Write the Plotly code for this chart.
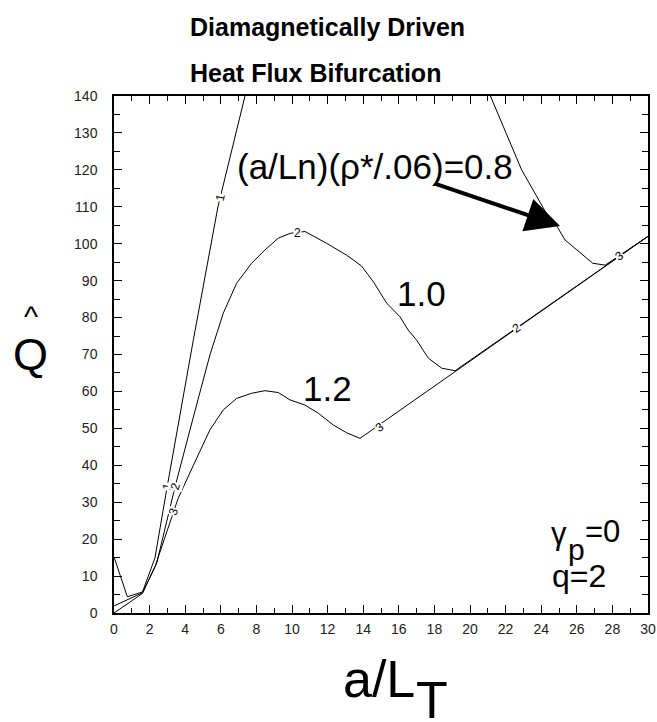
import plotly.graph_objects as go

# ---- data ----
# curve 1: (a/Ln)(rho*/.06)=0.8  (leaves the frame above 140 between the two pieces)
x1 = [0, 0.75, 1.6, 2.3, 2.98, 4.46, 5.84, 6.1, 7.36, None,
      21.12, 22.9, 24.4, 24.9, 25.34, 26.9, 27.6, 30]
y1 = [15.2, 4.4, 5.7, 14.9, 34, 74, 110, 115, 140, None,
      140.3, 120, 107.3, 104.6, 101, 94.7, 94.2, 102]
# curve 2: 1.0
x2 = [0, 1.6, 2.4, 3.43, 4.4, 5.39, 6.14, 6.89, 7.73, 8.48, 9.23, 9.89,
      10.73, 11.95, 13.07, 13.9, 14.57, 15.32, 16.07, 16.53, 17.0, 17.66,
      18.41, 19.16, 30]
y2 = [1.9, 5.5, 13.5, 34.2, 52, 69.9, 81.2, 89.3, 94.7, 98.3, 101.5, 102.8,
      103.3, 100.1, 96.9, 94.0, 89.7, 83.9, 80.2, 76.6, 73.9, 69.0,
      66.3, 65.6, 102]
# curve 3: 1.2
x3 = [0, 1.6, 2.3, 3.33, 3.6, 4.46, 5.39, 6.14, 6.89, 7.73, 8.48, 9.23,
      9.89, 10.73, 11.48, 12.32, 13.07, 13.82, 30]
y3 = [0, 5.3, 12.5, 27.4, 31, 40, 49.6, 55, 58.1, 59.5, 60.2, 59.7,
      57.7, 56.3, 54.1, 50.9, 48.8, 47.3, 102]

# contour labels: text, x, y, angle
lab_text = ["1", "1", "2", "2", "2", "3", "3", "3"]
lab_x = [2.98, 5.96, 3.43, 10.3, 22.6, 3.33, 14.94, 28.4]
lab_y = [34.1, 112.4, 34.2, 103.0, 77.2, 27.4, 50.4, 96.6]
lab_ang = [-78, -78, -74, 0, -35, -70, -35, -35]

x_ticks = list(range(0, 31, 2))
y_ticks = list(range(0, 141, 10))

fig = go.Figure()
for xs, ys in [(x1, y1), (x2, y2), (x3, y3)]:
    fig.add_trace(go.Scatter(x=xs, y=ys, mode="lines",
                             line=dict(color="black", width=1),
                             connectgaps=False, showlegend=False,
                             hoverinfo="skip"))

ann = []
for t, xx, yy, a in zip(lab_text, lab_x, lab_y, lab_ang):
    ann.append(dict(x=xx, y=yy, xref="x", yref="y", text=t, showarrow=False,
                    textangle=a, bgcolor="white", borderpad=0,
                    xanchor="center", yanchor="middle",
                    font=dict(family="Arial", size=12, color="black")))

big = dict(family="Arial", color="black")


def px(xp):
    return (xp - 114) / 534


def py(yp):
    return (613 - yp) / 517


def txt(xp, yp, text, size, xanchor="left"):
    return dict(x=px(xp), y=py(yp), xref="paper", yref="paper", text=text,
                xanchor=xanchor, yanchor="middle", showarrow=False,
                font=dict(size=size, **big))


# arrow
ann.append(dict(x=25.06, y=104.8, ax=17.94, ay=116.4, xref="x", yref="y",
                axref="x", ayref="y", text="", showarrow=True, arrowhead=2,
                arrowsize=1.7, arrowwidth=4, arrowcolor="black"))
ann.append(dict(x=14.66, y=121, xref="x", yref="y",
                text="(a/Ln)(ρ*/.06)=0.8", showarrow=False,
                xanchor="center", yanchor="middle",
                font=dict(size=35, **big)))
ann.append(dict(x=17.25, y=86.4, xref="x", yref="y", text="1.0",
                showarrow=False, xanchor="center", yanchor="middle",
                font=dict(size=35, **big)))
ann.append(dict(x=12.0, y=60.8, xref="x", yref="y", text="1.2",
                showarrow=False, xanchor="center", yanchor="middle",
                font=dict(size=35, **big)))
# gamma_p = 0, q = 2
ann.append(txt(549, 533, "γ", 31))
ann.append(txt(566, 549, "p", 30))
ann.append(txt(583, 531, "=0", 31))
ann.append(txt(550, 576, "q=2", 32))
# axis titles
ann.append(txt(341, 679, "a/L", 52))
ann.append(txt(414, 700, "T", 52))
ann.append(txt(30, 354, "Q", 45, xanchor="center"))
ann.append(txt(31, 316, "^", 30, xanchor="center"))
# title
ann.append(txt(188, 27, "<b>Diamagnetically Driven</b>", 25))
ann.append(txt(188, 73, "<b>Heat Flux Bifurcation</b>", 25))

axis_common = dict(showline=True, linecolor="black", linewidth=1.5,
                   mirror="ticks", ticks="inside", ticklen=8, tickwidth=1,
                   tickcolor="black", showgrid=False, zeroline=False,
                   automargin=False,
                   tickfont=dict(family="Arial", size=14, color="#222"))
fig.update_layout(
    width=657, height=722, autosize=False,
    margin=dict(l=114, r=9, t=96, b=109),
    plot_bgcolor="white", paper_bgcolor="white",
    annotations=ann,
    xaxis=dict(range=[0, 30], tickvals=x_ticks, ticktext=[str(v) for v in x_ticks],
               minor=dict(dtick=1, ticklen=5, ticks="inside", tickcolor="black"),
               ticklabelstandoff=2,
               **axis_common),
    yaxis=dict(range=[0, 140], tickvals=y_ticks, ticktext=[str(v) for v in y_ticks],
               minor=dict(dtick=5, ticklen=6, ticks="inside", tickcolor="black"),
               ticklabelstandoff=12,
               **axis_common),
)
fig.write_html(
    "out.html",
    config={"displayModeBar": False, "responsive": False},
    post_script=(
        "document.body.style.margin='0';"
        "document.body.style.overflow='hidden';"
    ),
)
